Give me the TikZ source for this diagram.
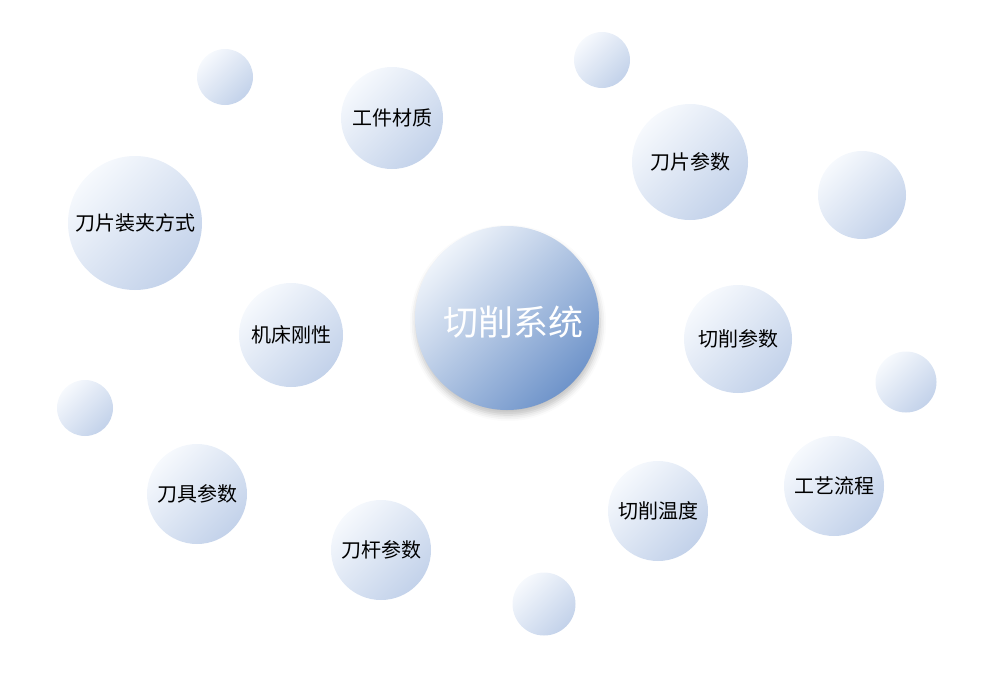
\documentclass[tikz,border=0pt]{standalone}
\usepackage{fontspec}
\setmainfont{Noto Sans CJK SC}
\usetikzlibrary{shadows.blur}
\usepackage{xcolor}
\definecolor{bublight}{HTML}{F6F9FD}
\definecolor{bubmid}{HTML}{E6EDF7}
\definecolor{bubdark}{HTML}{C3D2EA}
\definecolor{hublight}{HTML}{EEF3FA}
\definecolor{hubmid}{HTML}{B9CCE6}
\definecolor{hubdark}{HTML}{6F94CA}

\begin{document}
\begin{tikzpicture}[x=1pt,y=-1pt,
  main/.style = {circle, inner sep=0pt, top color=bublight, middle color=bubmid, bottom color=bubdark, shading angle=45, font=\fontsize{20}{24}\selectfont},
  hub/.style = {circle, inner sep=0pt, top color=hublight, middle color=hubmid, bottom color=hubdark, shading angle=45, text=white, font=\fontsize{35}{40}\selectfont,
    blur shadow={shadow xshift=1pt, shadow yshift=-5pt, shadow blur radius=6pt, shadow opacity=25}}]
      \useasboundingbox (0,0) rectangle (992,680);
      \node[hub,  minimum size=184pt] (0) at (507,318) {\hspace{12pt}\raisebox{-17pt}[0pt][0pt]{切削系统}};
      \node[main, minimum size=102pt] (1) at (392,118) {工件材质};
      \node[main, minimum size=116pt] (2) at (690,162) {刀片参数};
      \node[main, minimum size=134pt] (3) at (135,223) {刀片装夹方式};
      \node[main, minimum size=104pt] (4) at (291,335) {机床刚性};
      \node[main, minimum size=108pt] (5) at (738,339) {切削参数};
      \node[main, minimum size=100pt] (6) at (197,494) {刀具参数};
      \node[main, minimum size=100pt] (7) at (381,550) {刀杆参数};
      \node[main, minimum size=100pt] (8) at (658,511) {切削温度};
      \node[main, minimum size=100pt] (9) at (834,486) {工艺流程};
      \node[main, minimum size=56pt]  (10) at (225,77)  {};
      \node[main, minimum size=56pt]  (11) at (602,60)  {};
      \node[main, minimum size=88pt]  (12) at (862,195) {};
      \node[main, minimum size=61pt]  (13) at (906,382) {};
      \node[main, minimum size=56pt]  (14) at (85,408)  {};
      \node[main, minimum size=63pt]  (15) at (544,604) {};
    \end{tikzpicture}
\end{document}
